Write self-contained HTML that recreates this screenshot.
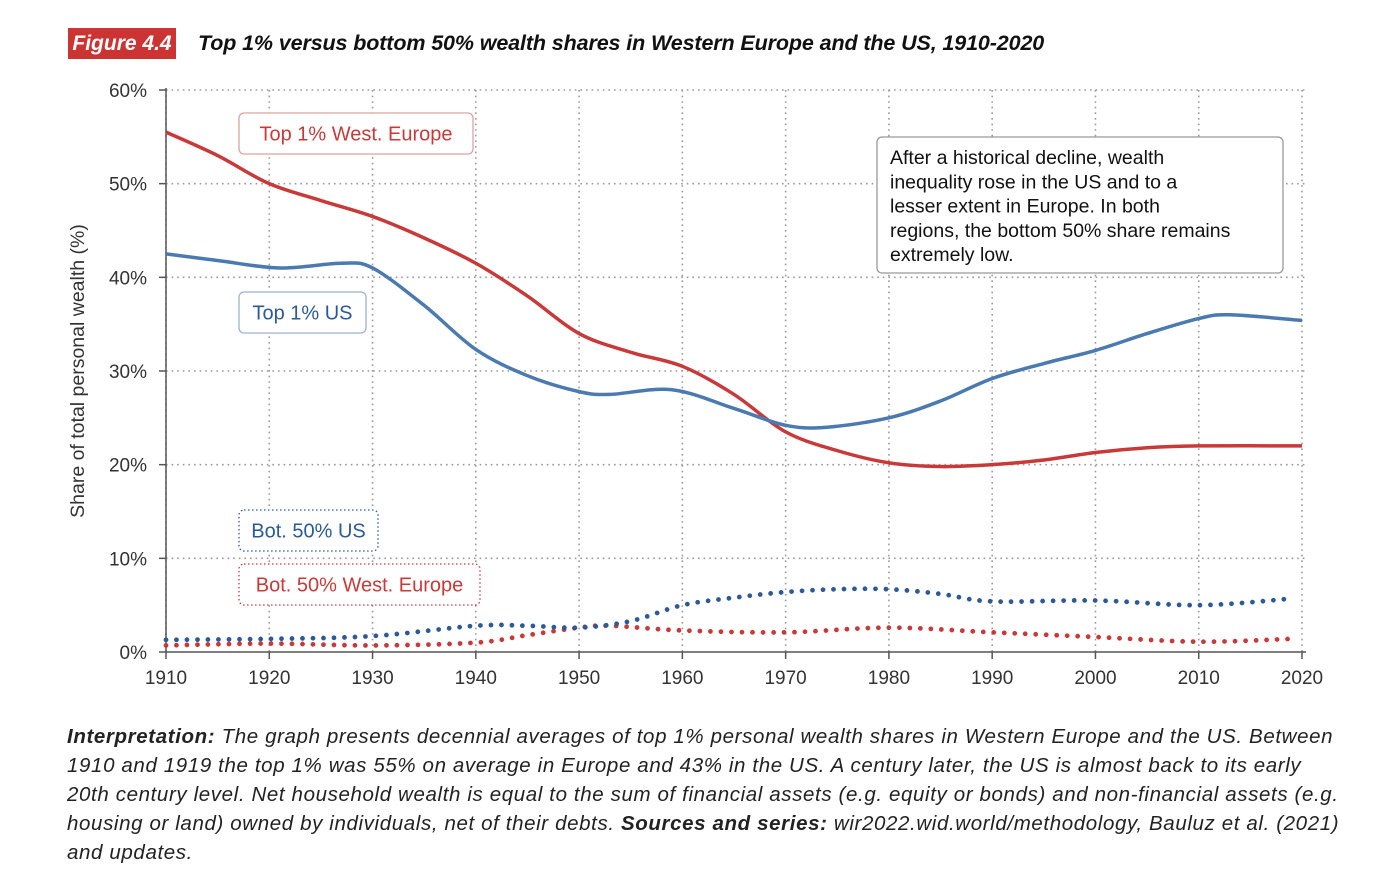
<!DOCTYPE html>
<html><head><meta charset="utf-8"><style>
body{margin:0;background:#fff;width:1400px;height:885px;overflow:hidden;font-family:"Liberation Sans",sans-serif}
#fig{position:absolute;left:68px;top:28px;width:108px;height:31px;background:#cc3333;color:#fff;font-style:italic;font-weight:bold;font-size:21px;line-height:31px;text-align:center}
#title{position:absolute;left:198px;top:28px;font-style:italic;font-weight:bold;font-size:21.5px;line-height:31px;color:#111;letter-spacing:-0.12px}
#interp{position:absolute;left:67px;top:722px;width:1320px;font-style:italic;font-size:20.5px;line-height:29px;color:#222;white-space:nowrap;letter-spacing:0.62px}
</style></head><body>
<div id="fig">Figure 4.4</div>
<div id="title">Top 1% versus bottom 50% wealth shares in Western Europe and the US, 1910-2020</div>
<svg id="chart" width="1400" height="720" style="position:absolute;left:0;top:0"></svg>
<div id="interp"><b>Interpretation:</b> The graph presents decennial averages of top 1% personal wealth shares in Western Europe and the US. Between<br>1910 and 1919 the top 1% was 55% on average in Europe and 43% in the US. A century later, the US is almost back to its early<br>20th century level. Net household wealth is equal to the sum of financial assets (e.g. equity or bonds) and non-financial assets (e.g.<br>housing or land) owned by individuals, net of their debts. <b>Sources and series:</b> wir2022.wid.world/methodology, Bauluz et al. (2021)<br>and updates.</div>
<script>
const xTicks=[1910,1920,1930,1940,1950,1960,1970,1980,1990,2000,2010,2020];
const yTicks=[0,10,20,30,40,50,60];
const topEuYears=[1910,1915,1920,1925,1930,1935,1940,1945,1950,1955,1960,1965,1970,1975,1980,1985,1990,1995,2000,2005,2010,2020];
const topEuVals=[55.5,53,50,48.2,46.5,44.2,41.5,38,34,32,30.5,27.5,23.5,21.5,20.2,19.8,20,20.5,21.3,21.8,22,22];
const topUsYears=[1910,1915,1921,1927,1930,1935,1940,1945,1950,1953,1959,1965,1970,1974,1980,1985,1990,1995,2000,2005,2010,2013,2020];
const topUsVals=[42.5,41.8,41,41.5,41,37,32.3,29.5,27.8,27.5,28,26,24.2,24,25,26.8,29.2,30.8,32.2,34,35.6,36,35.4];
const botUsYears=[1910,1920,1930,1940,1945,1950,1955,1960,1965,1970,1975,1980,1985,1990,2000,2010,2019];
const botUsVals=[1.3,1.4,1.7,2.8,2.8,2.6,3.3,5,5.8,6.4,6.7,6.7,6.2,5.4,5.5,5.0,5.7];
const botEuYears=[1910,1920,1930,1940,1945,1950,1953,1960,1970,1980,1990,2000,2010,2019];
const botEuVals=[0.7,0.9,0.7,1.0,1.8,2.6,2.8,2.3,2.1,2.6,2.1,1.6,1.1,1.4];
const NS="http://www.w3.org/2000/svg",svg=document.getElementById('chart');
const X=y=>166+(y-1910)*(1302-166)/110, Y=v=>652-v*(652-90)/60;
function mk(t,a,p){const e=document.createElementNS(NS,t);for(const k in a)e.setAttribute(k,a[k]);(p||svg).appendChild(e);return e;}
for(const t of xTicks){const g=mk('line',{x1:X(t),x2:X(t),y1:90,y2:652,stroke:'#999','stroke-width':1.6,'stroke-dasharray':'1.6 4'});

const tk=mk('line',{x1:X(t),x2:X(t),y1:652,y2:659,stroke:'#555','stroke-width':1.5});

const l=mk('text',{x:X(t),y:684,'text-anchor':'middle','font-size':19,fill:'#333'});l.textContent=t;
}
for(const t of yTicks){if(t>0){const g=mk('line',{x1:166,x2:1305,y1:Y(t),y2:Y(t),stroke:'#999','stroke-width':1.6,'stroke-dasharray':'1.6 4'});
}
const tk=mk('line',{x1:159,x2:166,y1:Y(t),y2:Y(t),stroke:'#555','stroke-width':1.5});

const l=mk('text',{x:147,y:Y(t)+7,'text-anchor':'end','font-size':19,fill:'#333'});l.textContent=t+'%';
}
const ax=mk('line',{x1:166,x2:1306,y1:652,y2:652,stroke:'#555','stroke-width':1.5});
const ay=mk('line',{x1:166,x2:166,y1:88,y2:652,stroke:'#555','stroke-width':1.5});
const yt=mk('text',{x:84,y:371,'text-anchor':'middle','font-size':19.5,fill:'#333',transform:'rotate(-90 84 371)'});yt.textContent='Share of total personal wealth (%)';

function path(xs,vs){const p=xs.map((x,i)=>[X(x),Y(vs[i])]);let d='M'+p[0];
for(let i=0;i<p.length-1;i++){const a=p[i-1]||p[i],b=p[i],c=p[i+1],e=p[i+2]||c;
d+=' C'+(b[0]+(c[0]-a[0])/6)+','+(b[1]+(c[1]-a[1])/6)+' '+(c[0]-(e[0]-b[0])/6)+','+(c[1]-(e[1]-b[1])/6)+' '+c;}return d;}
const RED='#c83a3a',BLUE='#4a7ab0';
let e;
e=mk('path',{d:path(botEuYears,botEuVals),fill:'none',stroke:RED,'stroke-width':4.8,'stroke-linecap':'round','stroke-dasharray':'0 10.5'});

e=mk('path',{d:path(botUsYears,botUsVals),fill:'none',stroke:'#2d5a96','stroke-width':4.8,'stroke-linecap':'round','stroke-dasharray':'0 10.5'});

e=mk('path',{d:path(topEuYears,topEuVals),fill:'none',stroke:RED,'stroke-width':3.5});

e=mk('path',{d:path(topUsYears,topUsVals),fill:'none',stroke:BLUE,'stroke-width':3.5});

function label(x,y,w,h,txt,col,dash,name){const r=mk('rect',{x,y,width:w,height:h,rx:5,fill:'#fff',stroke:dash?col:'#d99',"stroke-width":1.3});
if(dash)r.setAttribute('stroke-dasharray','1.5 2.5');else r.setAttribute('stroke',col==RED?'#e0a0a0':'#9bb3cf');

const t=mk('text',{x:x+w/2,y:y+h/2+7,'text-anchor':'middle','font-size':20,fill:col});t.textContent=txt;
}
label(239,113,234,41,'Top 1% West. Europe',RED,false,'top1-europe-label');
label(239,292,127,41,'Top 1% US','#2d5a96',false,'top1-us-label');
label(239,510,139,41,'Bot. 50% US','#2d5a96',true,'bot50-us-label');
label(239,564,241,41,'Bot. 50% West. Europe',RED,true,'bot50-europe-label');
const ab=mk('rect',{x:877,y:137,width:406,height:136,rx:5,fill:'#fff',stroke:'#999','stroke-width':1.3});

['After a historical decline, wealth','inequality rose in the US and to a','lesser extent in Europe. In both','regions, the bottom 50% share remains','extremely low.'].forEach((s,i)=>{
const t=mk('text',{x:890,y:164+i*24.3,'font-size':19.5,fill:'#111'});t.textContent=s;
});
</script>
</body></html>
